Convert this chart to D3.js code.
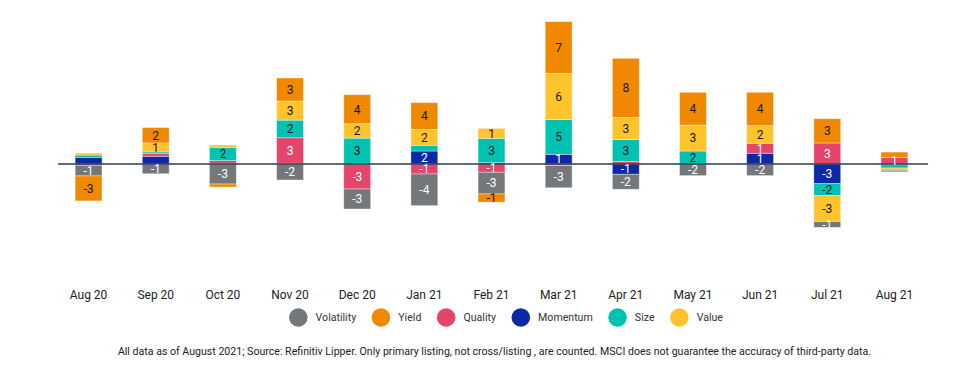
<!DOCTYPE html>
<html>
<head>
<meta charset="utf-8">
<script src="https://cdn.jsdelivr.net/npm/d3@7"></script>
<style>
  html, body { margin: 0; padding: 0; background: #fff; }
  svg { display: block; font-family: Roboto, "Noto Sans", sans-serif; }
</style>
</head>
<body>
<svg id="chart" width="963" height="381"></svg>
<script>
const months = ["Aug 20","Sep 20","Oct 20","Nov 20","Dec 20","Jan 21","Feb 21","Mar 21","Apr 21","May 21","Jun 21","Jul 21","Aug 21"];

const volatility = [-1.42, -1.3, -2.67, -2.13, -2.67, -4.22, -2.89, -2.97, -2.0, -1.55, -1.55, -0.78, -0.2];
const yieldF     = [-3.33, 2.05, -0.4, 3.07, 3.87, 3.56, -1.1, 6.89, 7.9, 4.36, 4.45, 3.24, 0.72];
const quality    = [-0.17, 0.36, 0.35, 3.4, -3.33, -1.33, -1.1, -0.2, 0.33, 0, 1.33, 2.8, 0.87];
const momentum   = [0.89, 1.03, 0.1, 0.1, 0, 1.73, 0.17, 1.29, -1.37, 0, 1.43, -2.62, -0.1];
const size       = [0.3, 0.22, 1.78, 2.35, 3.45, 0.76, 3.25, 4.63, 2.93, 1.73, 0, -1.6, -0.44];
const value      = [0.27, 1.2, 0.3, 2.55, 1.92, 2.13, 1.33, 6.17, 2.93, 3.47, 2.35, -3.45, -0.3];

const legendOrder = ["Volatility","Yield","Quality","Momentum","Size","Value"];
const stackOrder  = ["Momentum","Quality","Size","Value","Volatility","Yield"];
const hiddenLabels = ["Aug 20|Momentum","Sep 20|Momentum","Jan 21|Size","Aug 21|Yield"];
const footnote = "All data as of August 2021; Source: Refinitiv Lipper. Only primary listing, not cross/listing , are counted. MSCI does not guarantee the accuracy of third-party data.";

const seriesValues = {Volatility: volatility, Yield: yieldF, Quality: quality, Momentum: momentum, Size: size, Value: value};
const colors = {Volatility:"#75787b", Yield:"#f08800", Quality:"#e4456a", Momentum:"#0b28a6", Size:"#00c2b0", Value:"#ffc32b"};
const labelColor = {Volatility:"#ffffff", Yield:"#1a1a1a", Quality:"#ffffff", Momentum:"#ffffff", Size:"#1a1a1a", Value:"#1a1a1a"};

const table = months.map((m, i) => {
  const row = {month: m};
  legendOrder.forEach(k => row[k] = seriesValues[k][i]);
  return row;
});

const svg = d3.select("#chart");

const x = d3.scaleBand().domain(months).range([55, 928]).paddingInner(0.6).paddingOuter(0.3);
const y = d3.scaleLinear().domain([-10, 20]).range([239, 14]);

const stacked = d3.stack().keys(stackOrder).offset(d3.stackOffsetDiverging)(table);

const groups = svg.append("g").selectAll("g").data(stacked).join("g")
  .attr("fill", d => colors[d.key]);

groups.selectAll("rect").data(d => d.map(p => ({key: d.key, p}))).join("rect")
  .attr("x", d => x(d.p.data.month))
  .attr("width", x.bandwidth())
  .attr("y", d => y(Math.max(d.p[0], d.p[1])))
  .attr("height", d => Math.abs(y(d.p[0]) - y(d.p[1])))
  .attr("stroke", "rgba(255,255,255,0.45)")
  .attr("stroke-width", 0.8);

// zero line
svg.append("line")
  .attr("x1", 58).attr("x2", 928)
  .attr("y1", y(0)).attr("y2", y(0))
  .attr("stroke", "#2b3d52").attr("stroke-width", 1.4);

// segment labels
const labelData = [];
stacked.forEach(s => s.forEach(p => {
  const v = p.data[s.key];
  const id = p.data.month + "|" + s.key;
  if (Math.abs(v) >= 0.5 && !hiddenLabels.includes(id)) {
    labelData.push({key: s.key, month: p.data.month, v, mid: (p[0] + p[1]) / 2});
  }
}));

svg.append("g").selectAll("text").data(labelData).join("text")
  .attr("x", d => x(d.month) + x.bandwidth() / 2)
  .attr("y", d => y(d.mid))
  .attr("dy", "0.36em")
  .attr("text-anchor", "middle")
  .attr("font-size", 12)
  .attr("fill", d => labelColor[d.key])
  .text(d => Math.round(d.v));

// x axis labels
const xAxis = d3.axisBottom(x).tickSize(0).tickPadding(0);
const ax = svg.append("g").attr("transform", "translate(0,290)").call(xAxis);
ax.select(".domain").remove();
ax.selectAll("text").attr("font-size", 12).attr("fill", "#222").attr("font-family", "Roboto, sans-serif");

// legend
const leg = svg.append("g");
let cursor = 289;
const r = 9.3;
legendOrder.forEach(k => {
  leg.append("circle").attr("cx", cursor + r).attr("cy", 317.5).attr("r", r).attr("fill", colors[k]);
  const t = leg.append("text").attr("x", cursor + 2 * r + 8).attr("y", 317.5).attr("dy", "0.35em")
    .attr("font-size", 10.6).attr("fill", "#333").text(k);
  const w = t.node().getComputedTextLength();
  cursor = cursor + 2 * r + 8 + w + 15.5;
});

// footnote
svg.append("text")
  .attr("x", 494.5).attr("y", 351).attr("dy", "0.35em")
  .attr("text-anchor", "middle")
  .attr("font-size", 10.6).attr("fill", "#222")
  .text(footnote);
</script>
</body>
</html>
